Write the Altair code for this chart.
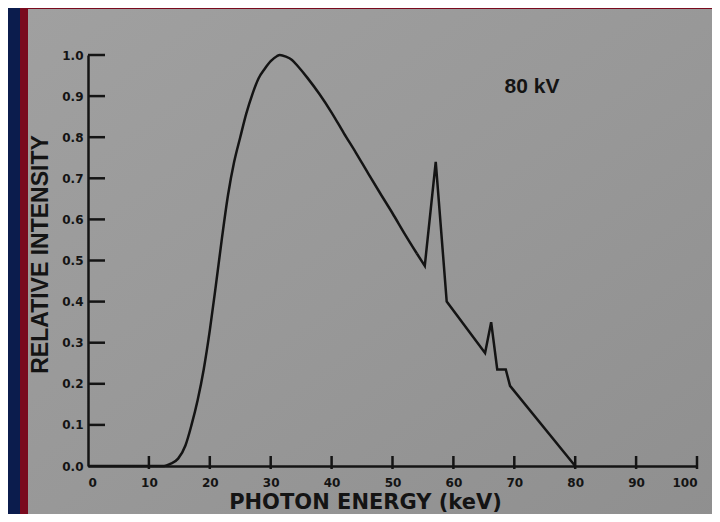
import altair as alt
import pandas as pd

# Spectrum (photon energy in keV, relative intensity)
energy = [0, 12.5, 13.5, 14.8, 16, 17, 18, 19, 20, 21, 22, 23, 24, 25, 26, 27,
          28, 29, 30, 31, 31.5, 32.5, 33.5, 34.5, 36, 38, 40, 42, 44, 46, 48,
          50, 52, 54, 55.3, 57.1, 58.9, 65.2, 66.2, 67.2, 68.6, 69.3, 80]
intensity = [0, 0, 0.005, 0.018, 0.05, 0.10, 0.16, 0.235, 0.33, 0.44, 0.555,
             0.66, 0.74, 0.80, 0.858, 0.905, 0.943, 0.966, 0.985, 0.997, 1.0,
             0.996, 0.988, 0.972, 0.945, 0.905, 0.86, 0.81, 0.762, 0.712,
             0.663, 0.615, 0.565, 0.517, 0.487, 0.74, 0.40, 0.275, 0.35,
             0.235, 0.235, 0.195, 0.0]
x_tick_values = [10, 20, 30, 40, 50, 60, 70, 80, 90, 100]
y_tick_values = [0.1, 0.2, 0.3, 0.4, 0.5, 0.6, 0.7, 0.8, 0.9, 1.0]
annotation = "80 kV"
x_title = "PHOTON ENERGY (keV)"
y_title = "RELATIVE INTENSITY"

W, H = 609, 411
PAD = {"left": 80, "top": 47, "right": 15, "bottom": 48}
NAVY = "#0b1c4d"
RED = "#7a0a1e"
GRAY = "#989898"
INK = "#141414"

spec = pd.DataFrame({"energy": energy, "intensity": intensity})
one = pd.DataFrame({"a": [0]})
xt = pd.DataFrame({"energy": x_tick_values})
yt = pd.DataFrame({"intensity": y_tick_values})

xscale = alt.Scale(domain=[0, 100], nice=False, zero=False)
yscale = alt.Scale(domain=[0, 1.0], nice=False, zero=False)

L, T = -PAD["left"], -PAD["top"]
R, B = W + PAD["right"], H + PAD["bottom"]


def band(color, x0, x1, y0, y1):
    return alt.Chart(one).mark_rect(color=color).encode(
        x=alt.value(x0), x2=alt.value(x1), y=alt.value(y0), y2=alt.value(y1))


paper_fill = alt.Gradient(
    gradient="linear", x1=0, y1=0, x2=1, y2=1,
    stops=[alt.GradientStop(color="#a0a0a0", offset=0),
           alt.GradientStop(color="#989898", offset=0.5),
           alt.GradientStop(color="#8f8f8f", offset=1)])
paper = alt.Chart(one).mark_rect(color=paper_fill).encode(
    x=alt.value(L + 20), x2=alt.value(R + 10),
    y=alt.value(T + 1), y2=alt.value(B + 10))

navy = band(NAVY, L, L + 12, T, B + 10)
red_left = band(RED, L + 12, L + 20, T, B + 10)
red_top = band(RED, L + 12, R + 10, T, T + 1)

x_axis = alt.Axis(values=list(range(0, 101, 10)), ticks=False, zindex=1,
                  grid=False, domainColor=INK, domainWidth=2.5,
                  labelFont="DejaVu Sans", labelFontWeight="bold",
                  labelFontSize=12, labelColor=INK, labelPadding=11,
                  title=x_title, titleFont="DejaVu Sans",
                  titleFontWeight="bold", titleFontSize=21,
                  titleColor=INK, titleX=277, titleY=42,
                  titleAlign="center", titleBaseline="alphabetic")
y_axis = alt.Axis(values=[i / 10 for i in range(11)], format=".1f", zindex=1,
                  ticks=False, grid=False, domainColor=INK,
                  domainWidth=2.5, labelFont="DejaVu Sans",
                  labelFontWeight="bold", labelFontSize=12,
                  labelColor=INK, labelPadding=5,
                  title=y_title, titleFont="Liberation Sans",
                  titleFontWeight="bold", titleFontSize=23,
                  titleColor=INK, titleX=-48, titleY=199,
                  titleAngle=270, titleAlign="center",
                  titleBaseline="middle")

base = alt.Chart(spec).encode(
    x=alt.X("energy:Q", scale=xscale, axis=x_axis),
    y=alt.Y("intensity:Q", scale=yscale, axis=y_axis),
)
smooth = base.mark_line(color=INK, strokeWidth=2.5, interpolate="monotone"
                        ).transform_filter(alt.datum.energy <= 54)
sharp = base.mark_line(color=INK, strokeWidth=2.5
                       ).transform_filter(alt.datum.energy >= 54)

xticks = alt.Chart(xt).mark_rule(color=INK, strokeWidth=2.5).encode(
    x=alt.X("energy:Q", scale=xscale),
    y=alt.value(H - 10), y2=alt.value(H + 3))
yticks = alt.Chart(yt).mark_rule(color=INK, strokeWidth=2.5).encode(
    y=alt.Y("intensity:Q", scale=yscale),
    x=alt.value(0), x2=alt.value(17))

label = alt.Chart(one).mark_text(
    text=annotation, font="Liberation Sans", fontWeight="bold", fontSize=21,
    color=INK, align="center", baseline="alphabetic").encode(
    x=alt.value(444), y=alt.value(38))

chart = alt.layer(paper, navy, red_left, red_top,
                  smooth, sharp, xticks, yticks, label).properties(
    width=W, height=H, autosize="none", padding=PAD, background=GRAY
).configure_view(stroke=None)

chart.save("out.html", embed_options={"renderer": "svg", "actions": False})
